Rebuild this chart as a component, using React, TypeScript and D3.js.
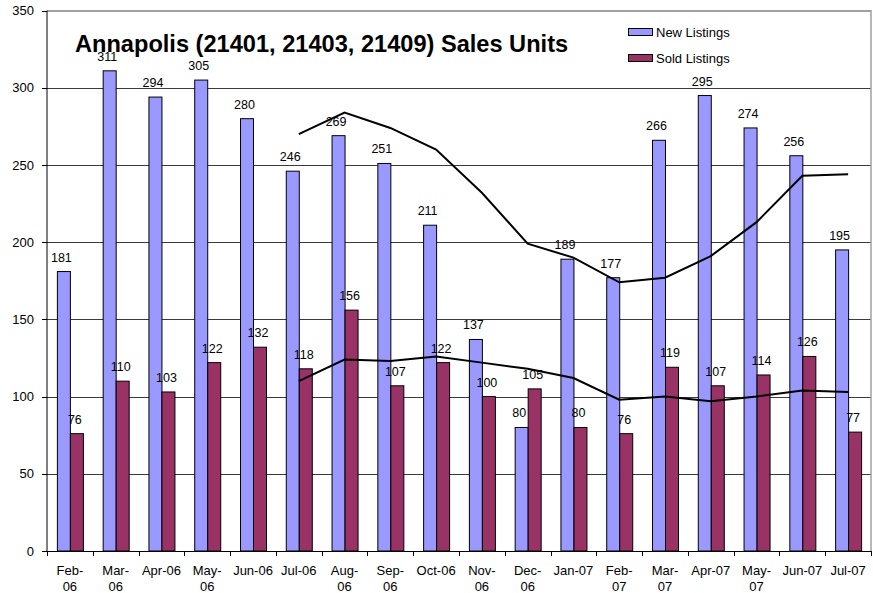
import React from "react";
import * as d3 from "d3";

const categories = ["Feb-06","Mar-06","Apr-06","May-06","Jun-06","Jul-06","Aug-06","Sep-06","Oct-06","Nov-06","Dec-06","Jan-07","Feb-07","Mar-07","Apr-07","May-07","Jun-07","Jul-07"];
const tickLabels = ["Feb-\n06","Mar-\n06","Apr-06","May-\n06","Jun-06","Jul-06","Aug-\n06","Sep-\n06","Oct-06","Nov-\n06","Dec-\n06","Jan-07","Feb-\n07","Mar-\n07","Apr-07","May-\n07","Jun-07","Jul-07"];
const newListings = [181,311,294,305,280,246,269,251,211,137,80,189,177,266,295,274,256,195];
const soldListings = [76,110,103,122,132,118,156,107,122,100,105,80,76,119,107,114,126,77];
// trend lines start at Jul-06
const newTrend = [270,284,274,260,232,199,190,174,177,191,213,243,244];
const soldTrend = [110,124,123,126,122,118,112,98,100,97,100,104,103];
const trendStart = 5;
const yTicks = [0,50,100,150,200,250,300,350];

const W = 873, H = 593;
const left = 47, right = 871, top = 10.6, bottom = 551;
const FONT = "Arial, 'Liberation Sans', sans-serif";

export default function App() {
  const x = d3.scaleBand<string>().domain(categories).range([left, right]).paddingInner(0).paddingOuter(0);
  const y = d3.scaleLinear().domain([0, 350]).range([bottom, top]);
  const bw = 13;
  const cx = (i: number) => (x(categories[i]) as number) + x.bandwidth() / 2;
  const line = d3.line<number>().x((_, i) => cx(i + trendStart)).y(d => y(d));

  return (
    <div style={{ position: "fixed", left: 0, top: 0 }}>
      <svg width={W} height={H} style={{ display: "block", background: "#fff" }} fontFamily={FONT}>
        {/* gridlines */}
        {yTicks.filter(t => t > 0 && t < 350).map(t => (
          <line key={t} x1={left} x2={right} y1={Math.round(y(t)) + 0.5} y2={Math.round(y(t)) + 0.5} stroke="#3a3a3a" strokeWidth={1} />
        ))}
        {/* plot border top/right */}
        <line x1={left} x2={right} y1={11} y2={11} stroke="#808080" strokeWidth={1.5} />
        <line x1={right} x2={right} y1={10} y2={bottom} stroke="#a0a0a0" strokeWidth={1.5} />
        {/* bars */}
        {categories.map((c, i) => {
          const c0 = cx(i);
          return (
            <g key={c}>
              <rect x={c0 - bw + 0.5} y={y(newListings[i])} width={bw} height={bottom - y(newListings[i])} fill="#9999FF" stroke="#000" strokeWidth={1} />
              <rect x={c0 + 0.5} y={y(soldListings[i])} width={bw} height={bottom - y(soldListings[i])} fill="#993366" stroke="#000" strokeWidth={1} />
            </g>
          );
        })}
        {/* trend lines */}
        <path d={line(newTrend) || ""} fill="none" stroke="#000" strokeWidth={2} />
        <path d={line(soldTrend) || ""} fill="none" stroke="#000" strokeWidth={2} />
        {/* value labels */}
        {categories.map((c, i) => {
          const c0 = cx(i);
          return (
            <g key={"l" + c} fontSize={12.5} textAnchor="middle" fill="#000">
              <text x={c0 - bw / 2 - 2} y={y(newListings[i]) - 10}>{newListings[i]}</text>
              <text x={c0 + bw / 2 - 1.5} y={y(soldListings[i]) - 10}>{soldListings[i]}</text>
            </g>
          );
        })}
        {/* axes */}
        <line x1={left} x2={left} y1={top} y2={bottom} stroke="#000" strokeWidth={1} />
        <line x1={left} x2={right} y1={bottom + 0.5} y2={bottom + 0.5} stroke="#000" strokeWidth={1} />
        {yTicks.map(t => (
          <g key={"y" + t}>
            <line x1={left - 5} x2={left} y1={Math.round(y(t)) + 0.5} y2={Math.round(y(t)) + 0.5} stroke="#000" />
            <text x={34} y={y(t) + 4.5} fontSize={13} textAnchor="end">{t}</text>
          </g>
        ))}
        {categories.map((c, i) => (
          <line key={"xt" + c} x1={Math.round((x(c) as number) + x.bandwidth()) + 0.5} x2={Math.round((x(c) as number) + x.bandwidth()) + 0.5} y1={bottom} y2={bottom + 5} stroke="#000" />
        ))}
        <line x1={left + 0.5} x2={left + 0.5} y1={bottom} y2={bottom + 5} stroke="#000" />
        {tickLabels.map((lab, i) => (
          <text key={"xl" + i} x={cx(i)} y={575} fontSize={13} textAnchor="middle">
            {lab.split("\n").map((s, k) => (
              <tspan key={k} x={cx(i)} dy={k === 0 ? 0 : 16}>{s}</tspan>
            ))}
          </text>
        ))}
        {/* title */}
        <text x={75} y={52} fontSize={23.6} fontWeight="bold">Annapolis (21401, 21403, 21409) Sales Units</text>
        {/* legend */}
        <rect x={628.5} y={28.5} width={24} height={7} fill="#9999FF" stroke="#000" strokeWidth={1} />
        <text x={656} y={37} fontSize={13}>New Listings</text>
        <rect x={628.5} y={54.5} width={24} height={7} fill="#993366" stroke="#000" strokeWidth={1} />
        <text x={656} y={63} fontSize={13}>Sold Listings</text>
      </svg>
    </div>
  );
}
